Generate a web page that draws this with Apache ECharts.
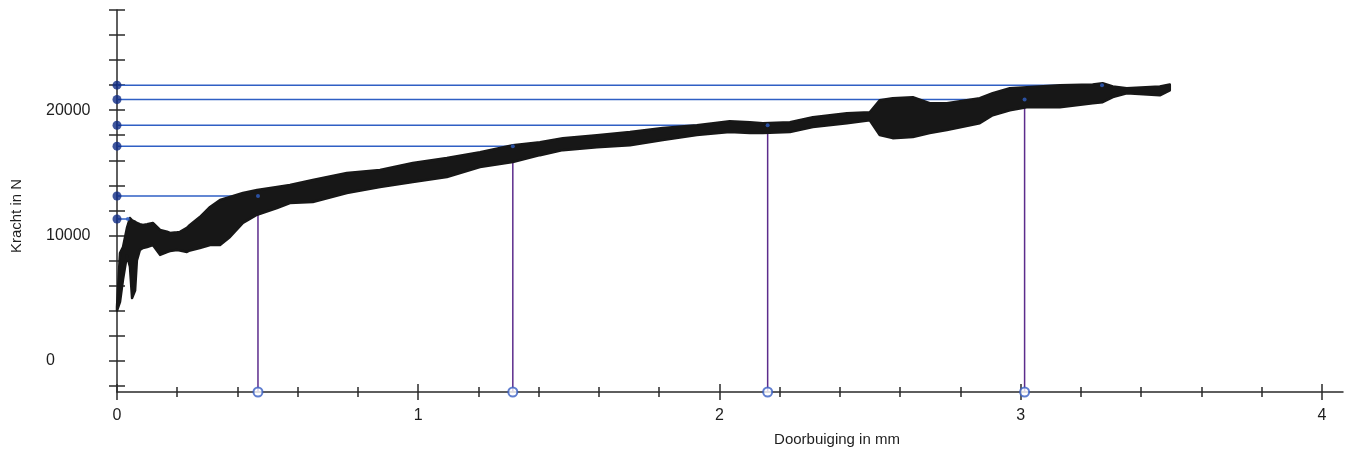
<!DOCTYPE html>
<html>
<head>
<meta charset="utf-8">
<script src="https://cdn.jsdelivr.net/npm/echarts@6/dist/echarts.min.js"></script>
<style>
  html, body { margin: 0; padding: 0; background: #fff; }
  #chart { width: 1349px; height: 455px; }
</style>
</head>
<body>
<div id="chart"></div>
<script>
// deflection (mm) where the band was read, with top / bottom of the force band (N)
const bandX = [0, 0.010, 0.020, 0.033, 0.043, 0.050, 0.060, 0.066, 0.076, 0.086, 0.100, 0.119, 0.143, 0.166, 0.176, 0.199, 0.209, 0.232, 0.242, 0.275, 0.309, 0.342, 0.375, 0.418, 0.465, 0.531, 0.574, 0.650, 0.763, 0.873, 0.982, 1.095, 1.205, 1.314, 1.404, 1.480, 1.593, 1.703, 1.812, 1.925, 2.034, 2.101, 2.144, 2.234, 2.310, 2.423, 2.499, 2.532, 2.575, 2.642, 2.698, 2.755, 2.864, 2.907, 2.964, 3.020, 3.130, 3.239, 3.272, 3.306, 3.352, 3.462, 3.495];
const bandTop = [4300, 8600, 9080, 10600, 11390, 11200, 11100, 11000, 10900, 10840, 10900, 11000, 10440, 10300, 10200, 10250, 10280, 10600, 10840, 11470, 12270, 12830, 13070, 13390, 13630, 13860, 14020, 14420, 14980, 15220, 15780, 16180, 16650, 17210, 17450, 17770, 18010, 18250, 18570, 18800, 19120, 19040, 18960, 19040, 19440, 19760, 19840, 20800, 20960, 21040, 20560, 20560, 20960, 21350, 21750, 21830, 21990, 22050, 22150, 21900, 21750, 21900, 22050];
const bandBottom = [4000, 4700, 6500, 8400, 7500, 5000, 5600, 8000, 8840, 9000, 9080, 9240, 8450, 8680, 8750, 8840, 8800, 8680, 8800, 9000, 9240, 9240, 9880, 11000, 11650, 12190, 12590, 12670, 13390, 13860, 14260, 14660, 15460, 15860, 16410, 16810, 17050, 17210, 17610, 18010, 18250, 18170, 18170, 18250, 18650, 18960, 19200, 18010, 17770, 17850, 18170, 18410, 18960, 19600, 20000, 20240, 20240, 20560, 20640, 21040, 21350, 21190, 21590];

// cursor points: force levels and the deflection where each one meets the curve
const levelY = [22000, 20850, 18800, 17130, 13150, 11310];
const levelX = [3.27, 3.013, 2.16, 1.314, 0.468, 0.036];
const dropX = [3.013, 2.16, 1.314, 0.468];
const dropY = [20850, 18800, 17130, 13150];

const xMajorTicks = [0, 1, 2, 3, 4];
const xMinorTicks = [0.2, 0.4, 0.6, 0.8, 1.2, 1.4, 1.6, 1.8, 2.2, 2.4, 2.6, 2.8, 3.2, 3.4, 3.6, 3.8];
const yTicks = [-2000, 0, 2000, 4000, 6000, 8000, 10000, 12000, 14000, 16000, 18000, 20000, 22000, 24000, 26000, 28000];
const yLabels = [0, 10000, 20000];

const X_MIN = 0, X_MAX = 4.07, Y_MIN = -2500, Y_MAX = 28000;

const chart = echarts.init(document.getElementById('chart'));

const font = '"Liberation Sans", Arial, sans-serif';
const axisColor = '#2a2a2a';

function xAx(ticks, inside, len, withLine) {
  return {
    type: 'value', min: X_MIN, max: X_MAX, position: 'bottom',
    axisLine: { show: withLine, onZero: false, lineStyle: { color: axisColor, width: 1.5 } },
    axisTick: { show: true, customValues: ticks, inside: inside, length: len, lineStyle: { color: axisColor, width: 1.5 } },
    axisLabel: withLine
      ? { show: true, customValues: xMajorTicks, margin: 16, fontSize: 16, fontFamily: font, color: '#1e1e1e', formatter: v => String(v) }
      : { show: false },
    splitLine: { show: false }
  };
}
function yAx(inside, withLine) {
  return {
    type: 'value', min: Y_MIN, max: Y_MAX, position: 'left',
    axisLine: { show: withLine, onZero: false, lineStyle: { color: axisColor, width: 1.5 } },
    axisTick: { show: true, customValues: yTicks, inside: inside, length: 8, lineStyle: { color: axisColor, width: 1.5 } },
    axisLabel: withLine
      ? { show: true, customValues: yLabels, margin: 71, align: 'left', fontSize: 16, fontFamily: font, color: '#1e1e1e', formatter: v => String(v) }
      : { show: false },
    splitLine: { show: false }
  };
}

const hLines = levelY.map((y, i) => ({
  type: 'line', data: [[0, y], [levelX[i], y]], symbol: 'none', silent: true, z: 2,
  lineStyle: { color: '#2f5fc4', width: 1.5 }
}));
const vLines = dropX.map((x, i) => ({
  type: 'line', data: [[x, Y_MIN], [x, dropY[i]]], symbol: 'none', silent: true, z: 2,
  lineStyle: { color: '#5c2c8c', width: 1.5 }
}));

const option = {
  backgroundColor: '#fff',
  animation: false,
  grid: { left: 117, right: 6, top: 10, bottom: 63, containLabel: false },
  xAxis: [
    xAx(xMajorTicks, false, 8, true),
    xAx(xMajorTicks, true, 8, false),
    xAx(xMinorTicks, false, 5, false),
    xAx(xMinorTicks, true, 5, false)
  ],
  yAxis: [yAx(false, true), yAx(true, false)],
  graphic: [
    {
      type: 'text', x: 17, y: 216, rotation: Math.PI / 2,
      style: { text: 'Kracht in N', font: '15px ' + font, fill: '#1e1e1e', align: 'center', verticalAlign: 'middle' }
    },
    {
      type: 'text', x: 837, y: 440,
      style: { text: 'Doorbuiging in mm', font: '15px ' + font, fill: '#1e1e1e', align: 'center', verticalAlign: 'middle' }
    }
  ],
  series: [
    ...hLines,
    ...vLines,
    {
      type: 'custom', z: 5, silent: true,
      data: [[bandX[0], bandTop[0]]],
      renderItem: function (params, api) {
        const pts = [];
        for (let i = 0; i < bandX.length; i++) pts.push(api.coord([bandX[i], bandTop[i]]));
        for (let i = bandX.length - 1; i >= 0; i--) pts.push(api.coord([bandX[i], bandBottom[i]]));
        return {
          type: 'polygon',
          shape: { points: pts },
          style: { fill: '#171717', stroke: '#171717', lineWidth: 2.5, lineJoin: 'round' }
        };
      }
    },
    {
      type: 'scatter', z: 6, silent: true, clip: false,
      data: levelY.map(y => [0, y]), symbolSize: 9,
      itemStyle: { color: '#0f2c86' }
    },
    {
      type: 'scatter', z: 6, silent: true, clip: false,
      data: levelY.map((y, i) => [levelX[i], y]), symbolSize: 4,
      itemStyle: { color: '#2f5fc4' }
    },
    {
      type: 'scatter', z: 6, silent: true, clip: false,
      data: dropX.map(x => [x, Y_MIN]), symbol: 'emptyCircle', symbolSize: 9,
      itemStyle: { color: '#3a5fc4', borderColor: '#3a5fc4', borderWidth: 1.5 }
    }
  ]
};

chart.setOption(option);
</script>
</body>
</html>
